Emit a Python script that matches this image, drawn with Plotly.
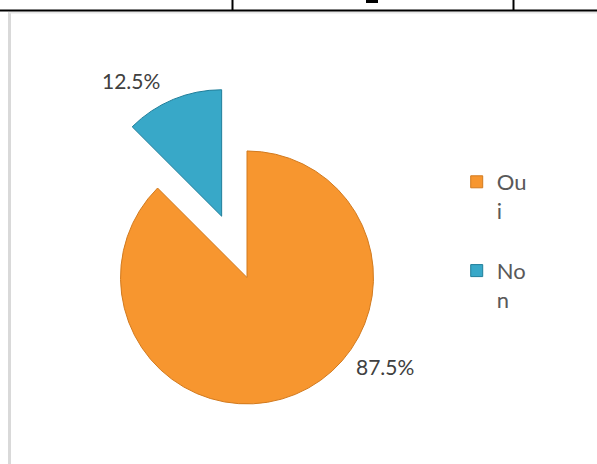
import plotly.graph_objects as go

# Survey answers and their shares (percent)
categories = ["Oui", "Non"]
shares = [87.5, 12.5]
slice_colors = ["#F7962F", "#38A8C8"]
edge_colors = ["#D27A1E", "#1F7E9A"]
explode = [0.262, 0.262]

W, H = 597, 464

# Narrow legend column: the labels wrap after two characters
legend_labels = [c[:2] + "<br>" + c[2:] + "<br> " for c in categories]

fig = go.Figure()
fig.add_trace(go.Pie(
    labels=legend_labels,
    values=shares,
    sort=False,
    direction="clockwise",
    rotation=0,
    pull=explode,
    marker=dict(colors=slice_colors, line=dict(color=edge_colors, width=1)),
    textinfo="none",
    hoverinfo="label+percent",
    domain=dict(x=[0.125, 0.660], y=[0.124, 0.812]),
))

# Percentage labels beside the slices
label_pos = [(385, 366.5), (131, 80.5)]
for value, (px, py) in zip(shares, label_pos):
    fig.add_annotation(
        x=px / W, y=1 - py / H, xref="paper", yref="paper",
        xanchor="center", yanchor="middle",
        text=f"{value:.1f}%", showarrow=False,
        font=dict(family="Lato", size=21, color="#404040"),
    )

def px_x(v):
    return v / W

def px_y(v):
    return 1 - v / H

shapes = [
    # light grey frame of the chart area
    dict(type="line", x0=px_x(9.5), x1=px_x(9.5), y0=px_y(12), y1=px_y(470),
         line=dict(color="#D9D9D9", width=3)),
    dict(type="line", x0=px_x(9), x1=px_x(600), y0=px_y(12.5), y1=px_y(12.5),
         line=dict(color="#E6E6E6", width=2)),
    # table rules above the chart
    dict(type="line", x0=px_x(0), x1=px_x(600), y0=px_y(10.5), y1=px_y(10.5),
         line=dict(color="#000000", width=2)),
    dict(type="line", x0=px_x(232.5), x1=px_x(232.5), y0=px_y(-2), y1=px_y(10.5),
         line=dict(color="#000000", width=2)),
    dict(type="line", x0=px_x(513.5), x1=px_x(513.5), y0=px_y(-2), y1=px_y(10.5),
         line=dict(color="#000000", width=2)),
    dict(type="line", x0=px_x(366), x1=px_x(378), y0=px_y(1.5), y1=px_y(1.5),
         line=dict(color="#000000", width=3)),
]

fig.update_layout(
    width=W, height=H,
    margin=dict(l=0, r=0, t=0, b=0),
    paper_bgcolor="white",
    plot_bgcolor="white",
    shapes=shapes,
    showlegend=True,
    legend=dict(
        x=0.765, y=1 - 161 / H, xanchor="left", yanchor="top",
        valign="top", traceorder="normal",
        font=dict(family="Lato", size=22, color="#595959"),
        bgcolor="rgba(0,0,0,0)",
    ),
)

fig.write_html("out.html")
